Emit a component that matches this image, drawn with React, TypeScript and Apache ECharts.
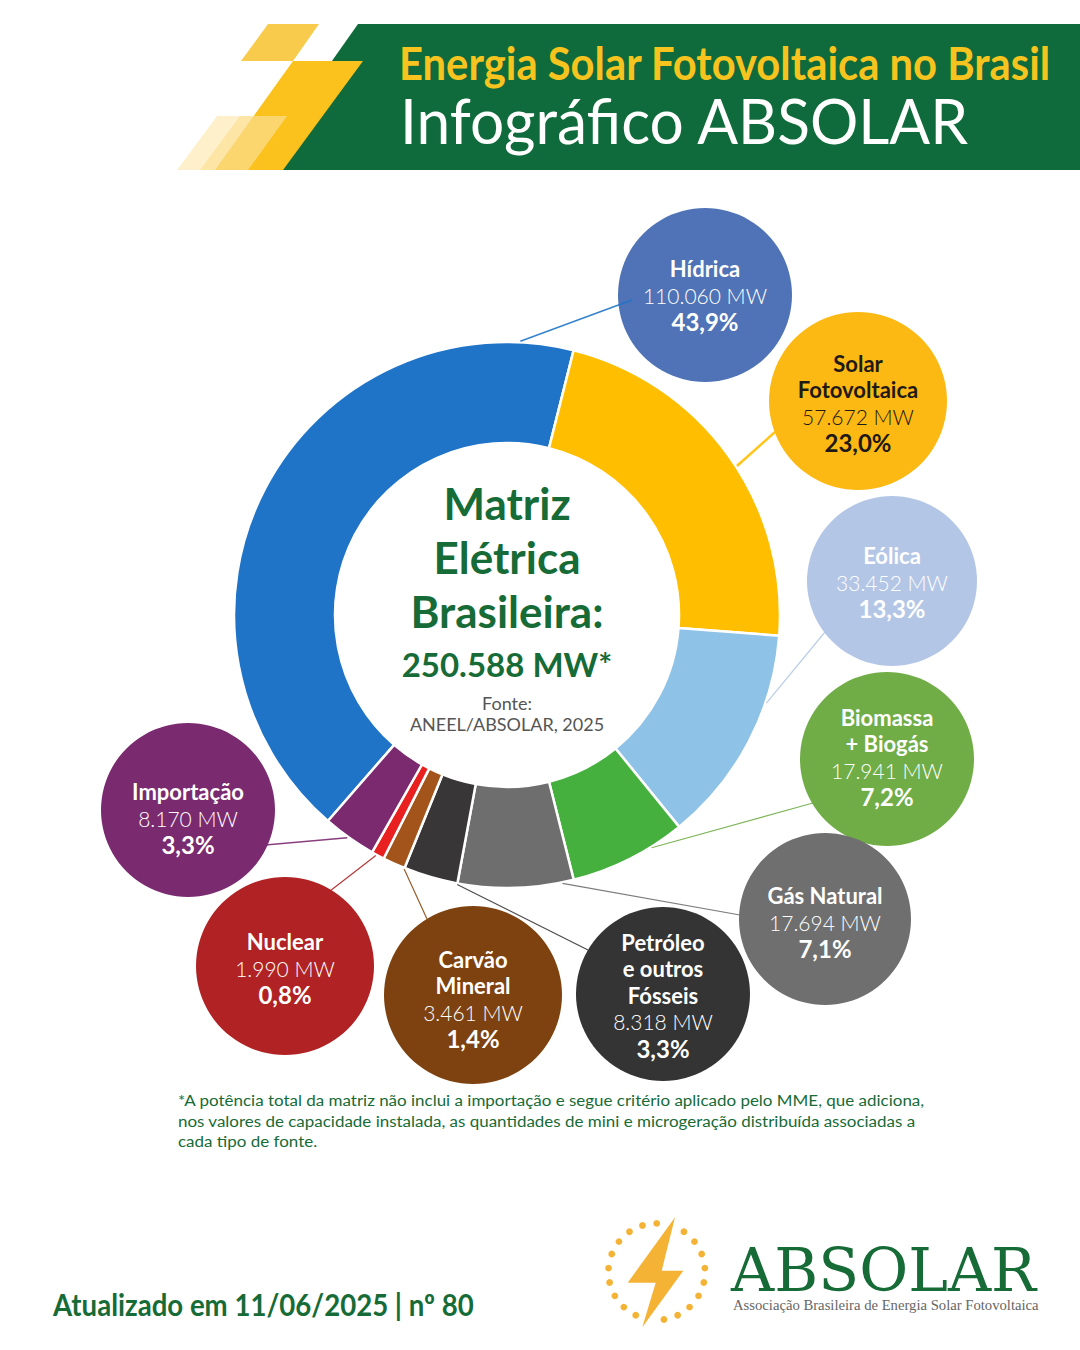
import React, { useEffect, useRef } from 'react';
import * as echarts from 'echarts';

// ---------- DATA ----------
const categoryLabels = [
  'Hídrica',
  'Solar\nFotovoltaica',
  'Eólica',
  'Biomassa\n+ Biogás',
  'Gás Natural',
  'Petróleo\ne outros\nFósseis',
  'Carvão\nMineral',
  'Nuclear',
  'Importação',
];
const categories = categoryLabels.map((s) => s.replace(/\n/g, ' '));
const capacityMW = [110060, 57672, 33452, 17941, 17694, 8318, 3461, 1990, 8170];
const sharePct = [43.9, 23.0, 13.3, 7.2, 7.1, 3.3, 1.4, 0.8, 3.3];
const totalMW = 250588;

const headerTitle = 'Energia Solar Fotovoltaica no Brasil';
const headerSubtitle = 'Infográfico ABSOLAR';
const centerTitleLines = ['Matriz', 'Elétrica', 'Brasileira:'];
const sourceLines = ['Fonte:', 'ANEEL/ABSOLAR, 2025'];
const footnoteLines = [
  '*A potência total da matriz não inclui a importação e segue critério aplicado pelo MME, que adiciona,',
  'nos valores de capacidade instalada, as quantidades de mini e microgeração distribuída associadas a',
  'cada tipo de fonte.',
];
const updatedText = 'Atualizado em 11/06/2025 | nº 80';
const brandName = 'ABSOLAR';
const brandFull = 'Associação Brasileira de Energia Solar Fotovoltaica';

// ---------- STYLES / LAYOUT ----------
const sliceColors = ['#1F74C7', '#FFBF00', '#8EC3E7', '#45B03D', '#6E6E6E', '#383637', '#A3541A', '#E8201F', '#7B2A70'];
const bubbleColors = ['#4F73B6', '#FDB913', '#B4C6E6', '#70AD47', '#6F6F6F', '#343434', '#7D420F', '#B02223', '#7A2A6F'];
const bubbleTextColors = ['#FFFFFF', '#1F1A17', '#FFFFFF', '#FFFFFF', '#FFFFFF', '#FFFFFF', '#FFFFFF', '#FFFFFF', '#FFFFFF'];
const lineColors = ['#1F74C7', '#FFBF00', '#B4C6E6', '#70AD47', '#6E6E6E', '#383637', '#8B4A14', '#B02223', '#7A2A6F'];
// bubble centre, radius, leader-line end offset, position of line start inside the slice (0..1), line width, text offset
const bubbleLayout = [
  { cx: 705, cy: 295, r: 87, ex: -73, ey: 5, frac: 0.926, lw: 1.5, tdy: 0 },
  { cx: 858, cy: 401, r: 89, ex: -83, ey: 31, frac: 0.535, lw: 2.5, tdy: 2 },
  { cx: 892, cy: 581, r: 85, ex: -67, ey: 51, frac: 0.31, lw: 1.2, tdy: 1 },
  { cx: 887, cy: 759, r: 87, ex: -74, ey: 44, frac: 0.29, lw: 1.2, tdy: -2 },
  { cx: 825, cy: 919, r: 86, ex: -85, ey: -4, frac: 0.1, lw: 1.2, tdy: 3 },
  { cx: 663, cy: 994, r: 87, ex: -75, ey: -44, frac: 0.0, lw: 1.2, tdy: 1 },
  { cx: 473, cy: 995, r: 89, ex: -46, ey: -76, frac: 0.0, lw: 1.2, tdy: 4 },
  { cx: 285, cy: 966, r: 89, ex: 45, ey: -75, frac: 0.63, lw: 1.2, tdy: 2 },
  { cx: 188, cy: 810, r: 87, ex: 55, ey: 37, frac: 0.53, lw: 1.5, tdy: 8 },
];
const PIE_CX = 507;
const PIE_CY = 615;
const PIE_R_IN = 172;
const PIE_R_OUT = 273;
const PIE_START = 229;
const GREEN = '#166B36';
const FONT = 'Lato';

function fmtThousands(v: number) {
  return String(v).replace(/\B(?=(\d{3})+(?!\d))/g, '.');
}
function fmtPct(p: number) {
  return p.toFixed(1).replace('.', ',') + '%';
}

let measureCtx: CanvasRenderingContext2D | null = null;
function textWidth(text: string, font: string) {
  if (!measureCtx) measureCtx = document.createElement('canvas').getContext('2d');
  if (!measureCtx) return 1;
  measureCtx.font = font;
  return measureCtx.measureText(text).width || 1;
}

function txt(text: string, x: number, y: number, font: string, fill: string, align = 'center', scaleX = 1, z = 20) {
  return {
    type: 'text',
    x,
    y,
    scaleX,
    z,
    silent: true,
    style: {
      text,
      x: 0,
      y: 0,
      font,
      fill,
      align,
      textAlign: align,
      verticalAlign: 'middle',
      textVerticalAlign: 'middle',
    },
  };
}

function fitTxt(text: string, x: number, y: number, font: string, fill: string, width: number) {
  const s = width / textWidth(text, font);
  return txt(text, x, y, font, fill, 'left', s);
}

function buildGraphics() {
  const els: any[] = [];

  // header shapes
  els.push({ type: 'polygon', z: 1, shape: { points: [[268, 24], [319, 24], [293, 61], [241, 61]] }, style: { fill: '#F9CB4C' } });
  els.push({ type: 'polygon', z: 1, shape: { points: [[358, 24], [1080, 24], [1080, 170], [255, 170]] }, style: { fill: '#0F6B3B' } });
  els.push({ type: 'polygon', z: 2, shape: { points: [[293, 61], [363, 61], [283, 170], [215, 170]] }, style: { fill: '#FBC11D' } });
  els.push({ type: 'polygon', z: 3, shape: { points: [[217, 116], [287, 116], [248, 170], [177, 170]] }, style: { fill: 'rgba(252,228,160,0.55)' } });
  els.push({ type: 'polygon', z: 3, shape: { points: [[240, 116], [287, 116], [248, 170], [200, 170]] }, style: { fill: 'rgba(250,215,120,0.45)' } });
  els.push(fitTxt(headerTitle, 399, 62, `bold 46px ${FONT}`, '#F7C31E', 652));
  els.push(fitTxt(headerSubtitle, 400, 120, `62px ${FONT}`, '#FFFFFF', 570));

  // centre text
  const cTitleY = [503, 557, 611];
  centerTitleLines.forEach((t, i) => els.push(txt(t, PIE_CX, cTitleY[i], `bold 44px ${FONT}`, GREEN)));
  els.push(txt(fmtThousands(totalMW) + ' MW*', PIE_CX, 664, `bold 33px ${FONT}`, GREEN));
  const srcY = [703, 724];
  sourceLines.forEach((t, i) => els.push(txt(t, PIE_CX, srcY[i], `18px ${FONT}`, '#555555')));

  // leader lines + bubbles
  const sum = capacityMW.reduce((a, b) => a + b, 0);
  let theta = 90 - PIE_START; // degrees clockwise from 12 o'clock
  capacityMW.forEach((v, i) => {
    const span = (v / sum) * 360;
    const L = bubbleLayout[i];
    const a = ((theta + L.frac * span) * Math.PI) / 180;
    theta += span;
    const x1 = PIE_CX + (PIE_R_OUT + 1) * Math.sin(a);
    const y1 = PIE_CY - (PIE_R_OUT + 1) * Math.cos(a);
    els.push({ type: 'circle', z: 10, silent: true, shape: { cx: L.cx, cy: L.cy, r: L.r }, style: { fill: bubbleColors[i] } });
    els.push({
      type: 'line',
      z: 12,
      silent: true,
      shape: { x1, y1, x2: L.cx + L.ex, y2: L.cy + L.ey },
      style: { stroke: lineColors[i], lineWidth: L.lw, opacity: 0.9 },
    });
    const nameLines = categoryLabels[i].split('\n');
    const lines: { t: string; f: string }[] = [];
    nameLines.forEach((n) => lines.push({ t: n, f: `bold 22px ${FONT}` }));
    lines.push({ t: fmtThousands(v) + ' MW', f: `300 21px ${FONT}` });
    lines.push({ t: fmtPct(sharePct[i]), f: `bold 24px ${FONT}` });
    const step = 26.5;
    const y0 = L.cy + L.tdy - ((lines.length - 1) * step) / 2;
    lines.forEach((ln, k) => els.push(txt(ln.t, L.cx, y0 + k * step, ln.f, bubbleTextColors[i])));
  });

  // footnote
  const fnFont = `16px ${FONT}`;
  const fnScale = 747 / textWidth(footnoteLines[0], fnFont);
  const fnY = [1100, 1121, 1141];
  footnoteLines.forEach((t, i) => els.push(txt(t, 178, fnY[i], fnFont, GREEN, 'left', fnScale)));

  // updated
  els.push(fitTxt(updatedText, 53, 1305, `bold 30px ${FONT}`, GREEN, 421));

  // logo: dots + bolt
  const lcx = 656.7;
  const lcy = 1271.7;
  for (let k = 0; k < 21; k++) {
    if (k === 1 || k === 11) continue;
    const ang = ((k * 360) / 21) * (Math.PI / 180);
    els.push({
      type: 'circle',
      z: 10,
      silent: true,
      shape: { cx: lcx + 48.3 * Math.sin(ang), cy: lcy - 48.3 * Math.cos(ang), r: 3.4 },
      style: { fill: '#F5B335' },
    });
  }
  els.push({
    type: 'polygon',
    z: 10,
    silent: true,
    shape: { points: [[675, 1217.3], [627.7, 1282.7], [655.7, 1282.7], [642.3, 1327.3], [683.3, 1270.7], [661.7, 1270.7]] },
    style: { fill: '#F5B335' },
  });
  els.push(fitTxt(brandName, 731, 1270, `60px 'DejaVu Serif'`, GREEN, 305));
  els.push(fitTxt(brandFull, 733, 1305, `14px 'Liberation Serif'`, '#666666', 306));

  return els;
}

export default function App() {
  const ref = useRef<HTMLDivElement>(null);
  useEffect(() => {
    document.body.style.margin = '0';
    document.body.style.overflow = 'hidden';
    if (!ref.current) return;
    const chart = echarts.init(ref.current, undefined, { renderer: 'svg' });
    const option: any = {
      animation: false,
      backgroundColor: '#FFFFFF',
      series: [
        {
          type: 'pie',
          center: [PIE_CX, PIE_CY],
          radius: [PIE_R_IN, PIE_R_OUT],
          startAngle: PIE_START,
          clockwise: true,
          silent: true,
          label: { show: false },
          labelLine: { show: false },
          emphasis: { disabled: true },
          itemStyle: { borderColor: '#FFFFFF', borderWidth: 2.5 },
          data: categories.map((name, i) => ({ name, value: capacityMW[i], itemStyle: { color: sliceColors[i] } })),
        },
      ],
      graphic: { elements: buildGraphics() },
    };
    chart.setOption(option);
    return () => chart.dispose();
  }, []);
  return <div ref={ref} style={{ position: 'absolute', left: 0, top: 0, width: 1080, height: 1350 }} />;
}
